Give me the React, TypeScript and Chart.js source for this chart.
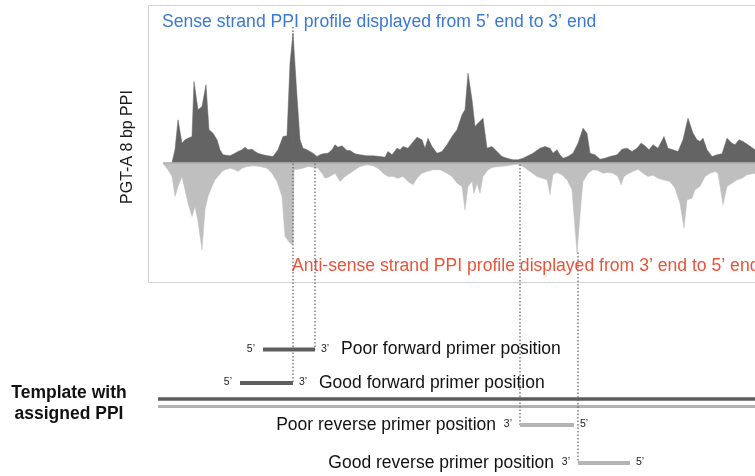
import React, { useEffect, useRef } from "react";
import { Chart, registerables } from "chart.js";

Chart.register(...registerables);

// Sense strand PPI profile (position in bp, PPI in arbitrary units)
const senseX = [22, 25, 28, 32, 35, 38, 42, 44, 48, 52, 56, 59, 63, 67, 70, 73, 80, 85, 88, 92, 95, 98, 102, 105, 108, 113, 118, 123, 128, 133, 137, 140, 143, 147, 150, 153, 157, 160, 163, 167, 170, 173, 178, 182, 185, 188, 192, 197,
  200, 205, 210, 217, 223, 230, 235, 238, 242, 247, 250, 253, 258, 262, 267, 272, 275, 278, 282, 287, 292, 297, 302, 307, 312, 315, 318, 322, 325, 328, 333, 337, 342, 347, 352, 357, 363, 368, 373, 378, 383, 390, 395,
  400, 403, 407, 410, 413, 418, 423, 428, 433, 437, 440, 445, 450, 455, 460, 467, 472, 477, 482, 487, 491, 495, 499, 503, 508, 514, 518, 523, 528, 533, 538, 543, 547, 550, 553, 557, 562, 567, 572, 577, 582, 585, 589, 593, 598, 605];
const senseY = [0, 12.7, 42.7, 19.3, 22.7, 24.3, 26, 81, 52.7, 56, 77.7, 32.7, 29.3, 22.7, 12.7, 7.7, 6.7, 9.3, 11, 12.7, 15.3, 12.7, 13.3, 11, 9.3, 7.7, 6.7, 6, 12.7, 26, 26.7, 99.3, 129.5, 66, 22.7, 14.3, 12.7, 11, 9.3, 6, 7.7, 8.7, 9.3, 12.7, 17.7, 15.3, 16.7, 12,
  12, 8.7, 7.7, 6.7, 6.7, 6, 5.3, 11, 7.7, 14.3, 12.7, 16, 14.3, 19.3, 25.3, 22.7, 14.3, 24.3, 16, 9.3, 11, 17.7, 26, 32.7, 47.7, 52.7, 89.3, 62.7, 36, 39.3, 44.3, 14.3, 16, 11, 6, 4.3, 2.7, 2.7, 4.3, 6.7, 9.3, 14.3, 16,
  14.3, 9.3, 12.7, 7.7, 4.3, 6, 9.3, 19.3, 34.3, 29.3, 9.3, 7.7, 3.3, 4.3, 6, 7.7, 13.3, 14.3, 11, 14.3, 19.3, 16.7, 12.7, 17.7, 14.3, 26, 14.3, 12.7, 11, 22.7, 44.3, 29.3, 22.7, 21, 24.3, 12.7, 6, 7.7, 8.7, 24.3, 19.3, 17.7, 22.7, 21, 17.7, 12.7];

// Anti-sense strand PPI profile (drawn below the axis)
const antiX = [13, 18, 22, 25, 28, 32, 35, 38, 42, 45, 48, 52, 55, 58, 62, 65, 68, 72, 75, 80, 85, 88, 92, 97, 103, 110, 117, 122, 127, 132, 135, 140, 143, 144, 148, 153, 158, 163, 168, 172, 175, 180, 185, 190, 195,
  200, 205, 210, 217, 223, 228, 233, 238, 243, 248, 253, 258, 263, 267, 272, 277, 283, 290, 297, 302, 307, 312, 315, 318, 322, 324, 327, 330, 333, 338, 343, 350, 357, 363, 368, 373, 380, 387, 392, 397, 400, 403,
  407, 412, 417, 422, 427, 431, 433, 438, 443, 448, 453, 458, 463, 468, 471, 474, 478, 483, 488, 493, 498, 503, 508, 513, 520, 525, 530, 534, 537, 542, 545, 550, 555, 560, 565, 568, 573, 577, 582, 587, 592, 597, 605];
const antiY = [-1, -7.3, -14, -34, -24, -14, -27.3, -40.7, -54, -44, -59, -87.3, -47.3, -34, -24, -17.3, -14, -9, -7.3, -5.7, -7.3, -9, -5.7, -4, -3.3, -4, -5.7, -10.7, -19, -34, -74, -80.7, -82.3, -7.3, -6.7, -5.7, -4, -4.7, -5.7, -10.7, -15.7, -14, -10.7, -19, -14,
  -10.7, -7.3, -4, -2.3, -3.3, -5.7, -10.7, -14, -14, -15.7, -14, -19, -22.3, -15.7, -10.7, -9, -7.3, -7.3, -10.7, -14, -20.7, -24, -47.3, -24, -19, -30.7, -20.7, -30.7, -14, -7.3, -4.7, -4, -3.3, -2.3, -1.7, -4, -9, -14, -15.7, -17.3, -32, -12,
  -10, -12.3, -17.3, -27.3, -90.7, -40.7, -19, -10.7, -7.3, -8, -10.7, -10, -10.7, -14, -22.3, -14, -11.3, -9, -6.7, -10.7, -14, -12.7, -15.7, -17.3, -19, -25.7, -40.7, -65.7, -37.3, -35.7, -27.3, -24, -14, -10.7, -9, -10.7, -42.3, -24, -20.7, -17.3, -15.7, -12.3, -10.7];

// Primer diagram (positions in bp on the same axis)
const primerNames = ["Poor forward primer position", "Good forward primer position", "Poor reverse primer position", "Good reverse primer position"];
const primerStart = [113, 90, 370, 428];
const primerEnd = [165, 143, 424, 480];
const primerStrand = ["forward", "forward", "reverse", "reverse"];
const templateRange = [8, 605];

const senseTitle = "Sense strand PPI profile displayed from 5\u2019 end to 3\u2019 end";
const antiTitle = "Anti-sense strand PPI profile displayed from 3\u2019 end to 5\u2019 end";
const yTitle = "PGT-A 8 bp PPI";
const templateLabel = ["Template with", "assigned PPI"];

const FONT = '"Liberation Sans", Arial, Helvetica, sans-serif';

const diagramPlugin = {
  id: "diagram",
  beforeDatasetsDraw(chart: any) {
    const ctx = chart.ctx;
    const ca = chart.chartArea;
    ctx.save();
    ctx.strokeStyle = "#d2d2d2";
    ctx.lineWidth = 1;
    ctx.beginPath();
    ctx.moveTo(ca.right + 10, ca.top + 0.5);
    ctx.lineTo(ca.left + 0.5, ca.top + 0.5);
    ctx.lineTo(ca.left + 0.5, ca.bottom + 0.5);
    ctx.lineTo(ca.right + 10, ca.bottom + 0.5);
    ctx.stroke();
    ctx.restore();
  },
  afterDatasetsDraw(chart: any) {
    const ctx = chart.ctx;
    const xs = chart.scales.x;
    const ys = chart.scales.y;
    const ca = chart.chartArea;
    const y0 = ys.getPixelForValue(0);
    ctx.save();

    // baseline
    ctx.strokeStyle = "#a4a4a4";
    ctx.lineWidth = 1;
    ctx.beginPath();
    ctx.moveTo(xs.getPixelForValue(antiX[0]), y0 + 0.5);
    ctx.lineTo(ca.right, y0 + 0.5);
    ctx.stroke();

    // titles
    ctx.textBaseline = "middle";
    ctx.textAlign = "left";
    ctx.font = `17.6px ${FONT}`;
    ctx.fillStyle = "#3a78d6";
    ctx.fillText(senseTitle, 162, 22);
    ctx.fillStyle = "#e8543a";
    ctx.fillText(antiTitle, 292, 266);

    ctx.save();
    ctx.translate(128, 147);
    ctx.rotate(-Math.PI / 2);
    ctx.textAlign = "center";
    ctx.fillStyle = "#1a1a1a";
    ctx.font = `16px ${FONT}`;
    ctx.fillText(yTitle, 0, 0);
    ctx.restore();

    // template
    const tx0 = xs.getPixelForValue(templateRange[0]);
    const tx1 = xs.getPixelForValue(templateRange[1]) + 10;
    ctx.lineCap = "butt";
    ctx.strokeStyle = "#5c5c5c";
    ctx.lineWidth = 3.5;
    ctx.beginPath();
    ctx.moveTo(tx0, 399);
    ctx.lineTo(tx1, 399);
    ctx.stroke();
    ctx.strokeStyle = "#b2b2b2";
    ctx.lineWidth = 3;
    ctx.beginPath();
    ctx.moveTo(tx0, 406.5);
    ctx.lineTo(tx1, 406.5);
    ctx.stroke();

    ctx.fillStyle = "#111";
    ctx.textAlign = "center";
    ctx.font = `bold 17.5px ${FONT}`;
    ctx.fillText(templateLabel[0], 69, 393);
    ctx.fillText(templateLabel[1], 69, 414);

    // primers
    const rowY = [349.5, 383, 425, 463];
    const dotTop = [y0 + 1, 27, y0 + 2, ys.getPixelForValue(-90)];
    primerNames.forEach((name, i) => {
      const xa = xs.getPixelForValue(primerStart[i]);
      const xb = xs.getPixelForValue(primerEnd[i]);
      const fwd = primerStrand[i] === "forward";
      const y = rowY[i];
      const x3 = fwd ? xb : xa;

      // dotted guide line
      ctx.save();
      ctx.strokeStyle = "#6a6a6a";
      ctx.lineWidth = 1.3;
      ctx.setLineDash([1.5, 2]);
      ctx.beginPath();
      ctx.moveTo(x3, dotTop[i]);
      ctx.lineTo(x3, y);
      ctx.stroke();
      ctx.restore();

      ctx.strokeStyle = fwd ? "#5e5e5e" : "#b4b4b4";
      ctx.lineWidth = 4;
      ctx.beginPath();
      ctx.moveTo(xa, y);
      ctx.lineTo(xb, y);
      ctx.stroke();

      ctx.fillStyle = "#222";
      ctx.font = `10.5px ${FONT}`;
      ctx.textAlign = "right";
      ctx.fillText(fwd ? "5\u2019" : "3\u2019", xa - 8, y - 0.5);
      ctx.textAlign = "left";
      ctx.fillText(fwd ? "3\u2019" : "5\u2019", xb + 6, y - 0.5);

      ctx.fillStyle = "#111";
      ctx.font = `17.5px ${FONT}`;
      if (fwd) {
        ctx.textAlign = "left";
        ctx.fillText(name, xb + 26, y);
      } else {
        ctx.textAlign = "right";
        ctx.fillText(name, xa - 24, y);
      }
    });

    ctx.restore();
  },
};

export default function App() {
  const ref = useRef<HTMLCanvasElement | null>(null);
  useEffect(() => {
    if (!ref.current) return;
    const chart = new Chart(ref.current, {
      type: "line",
      data: {
        datasets: [
          {
            label: "Sense",
            data: senseX.map((x, i) => ({ x, y: senseY[i] })),
            backgroundColor: "#646464",
            borderColor: "#646464",
            borderWidth: 0.5,
            fill: "origin",
            pointRadius: 0,
            tension: 0,
          },
          {
            label: "Anti-sense",
            data: antiX.map((x, i) => ({ x, y: antiY[i] })),
            backgroundColor: "#bfbfbf",
            borderColor: "#bfbfbf",
            borderWidth: 0.5,
            fill: "origin",
            pointRadius: 0,
            tension: 0,
          },
        ],
      },
      options: {
        responsive: false,
        animation: false,
        layout: { padding: { left: 148, top: 5, right: 0, bottom: 194 } },
        scales: {
          x: { type: "linear", min: -2, max: 605, display: false },
          y: { min: -119.5, max: 157.5, display: false },
        },
        plugins: { legend: { display: false }, tooltip: { enabled: false } },
      },
      plugins: [diagramPlugin],
    });
    return () => chart.destroy();
  }, []);
  return (
    <div style={{ position: "absolute", left: 0, top: 0, width: 755, height: 476, background: "#fff" }}>
      <canvas ref={ref} width={755} height={476} style={{ display: "block" }} />
    </div>
  );
}
